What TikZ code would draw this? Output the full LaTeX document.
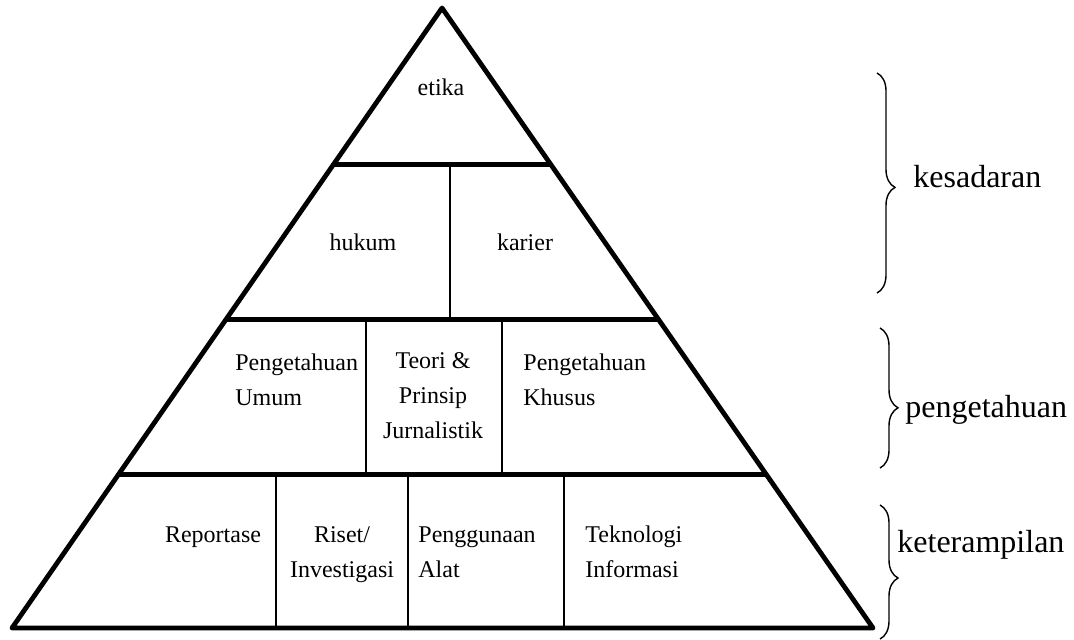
\documentclass[tikz,border=0pt]{standalone}
\usepackage{fontspec}
\setmainfont{Liberation Serif}
\usetikzlibrary{calc,decorations.pathreplacing}
\tikzset{every picture/.style={x=0.5pt,y=0.5pt}}
\tikzset{
    outline/.style={line width=2.4pt, line join=round},
    divider/.style={line width=1pt},
    cell/.style={inner sep=0pt, font=\fontsize{12}{17.5}\selectfont},
    levelbrace/.style={decorate, decoration={brace, amplitude=9pt, aspect=#1}, line width=0.7pt},
    level/.style={inner sep=0pt, anchor=base west, font=\fontsize{16}{19}\selectfont}
}

\begin{document}
\begin{tikzpicture}
        \useasboundingbox (0,0) rectangle (1074,639);
        \coordinate (apex) at (442,631);
        \coordinate (baseL) at (12,11);
        \coordinate (baseR) at (873,11);

        % Pyramid and its layers
        \draw[outline] (baseL) -- (apex) -- (baseR) -- cycle;
        \foreach \t in {0.247,0.497,0.747}
            \draw[outline] ($(baseL)!\t!(apex)$) -- ($(baseR)!\t!(apex)$);

        % Dividers
        \draw[divider] (450,319) -- (450,474);
        \foreach \x in {366,502}
            \draw[divider] (\x,164) -- (\x,319);
        \foreach \x in {276,408,564}
            \draw[divider] (\x,11) -- (\x,164);

        % Labels in the layers (base = last line)
        \node[cell, anchor=base] (etika) at (441,544) {etika};
        \node[cell, anchor=base] (hukum) at (363,389) {hukum};
        \node[cell, anchor=base] (karier) at (525,389) {karier};
        \node[cell, anchor=base west, align=left] (umum) at (235,234) {Pengetahuan\\Umum};
        \node[cell, anchor=base, align=center] (teori) at (433,201) {Teori \&\\Prinsip\\Jurnalistik};
        \node[cell, anchor=base west, align=left] (khusus) at (523,234) {Pengetahuan\\Khusus};
        \node[cell, anchor=base] (reportase) at (213,97) {Reportase};
        \node[cell, anchor=base, align=center] (riset) at (342,62) {Riset/\\Investigasi};
        \node[cell, anchor=base west, align=left] (alat) at (418,62) {Penggunaan\\Alat};
        \node[cell, anchor=base west, align=left] (ti) at (585,62) {Teknologi\\Informasi};

        % Braces on the right
        \coordinate (kesTop) at (877,566);
        \coordinate (kesBot) at (877,346);
        \coordinate (penTop) at (880,311);
        \coordinate (penBot) at (880,171);
        \coordinate (ketTop) at (880,134);
        \coordinate (ketBot) at (880,0);
        \draw[levelbrace=0.52] (kesTop) -- (kesBot);
        \draw[levelbrace=0.57] (penTop) -- (penBot);
        \draw[levelbrace=0.545] (ketTop) -- (ketBot);
        \node[level] (kesadaran) at (913,452) {kesadaran};
        \node[level] (pengetahuan) at (905,222) {pengetahuan};
        \node[level] (keterampilan) at (897,87) {keterampilan};
    \end{tikzpicture}
\end{document}
